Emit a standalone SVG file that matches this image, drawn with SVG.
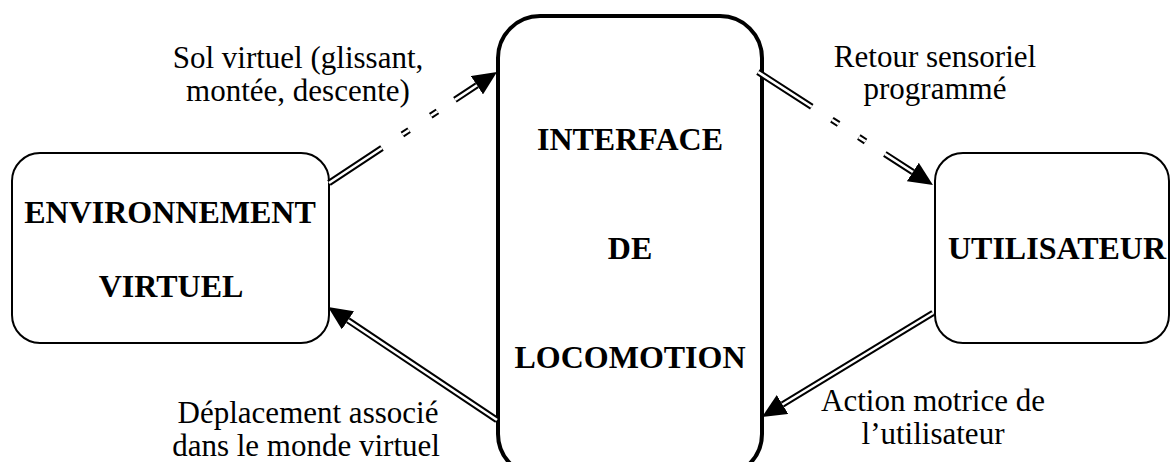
<svg xmlns="http://www.w3.org/2000/svg" width="1170" height="462" viewBox="0 0 1170 462">
<style>
.box{fill:#fff;stroke:#000;stroke-width:2}
.main{fill:#fff;stroke:#000;stroke-width:4}
.nt{font-family:"Liberation Serif","Times New Roman",serif;font-size:32px;font-weight:bold;text-anchor:middle;fill:#000}
.lb{font-family:"Liberation Serif","Times New Roman",serif;font-size:31px;text-anchor:middle;fill:#000}
.outer{fill:none;stroke:#000;stroke-width:6.5}
.inner{fill:none;stroke:#fff;stroke-width:2.6}
</style>
<defs>
<marker id="ah" viewBox="0 0 24 22" markerUnits="userSpaceOnUse" markerWidth="24" markerHeight="22" refX="0" refY="11" orient="auto">
<polygon points="0,0 24,11 0,22" fill="#000"/>
</marker>
</defs>
<rect width="1170" height="462" fill="#fff"/>
<g id="node-env">
<rect class="box" x="12" y="153" width="317" height="190" rx="28"/>
<text class="nt" x="170" y="223">ENVIRONNEMENT</text>
<text class="nt" x="171" y="297">VIRTUEL</text>
</g>
<g id="node-interface">
<rect class="main" x="498" y="16" width="264" height="460" rx="42"/>
<text class="nt" x="630" y="150">INTERFACE</text>
<text class="nt" x="630" y="259">DE</text>
<text class="nt" x="630" y="368">LOCOMOTION</text>
</g>
<g id="node-user">
<rect class="box" x="935" y="153" width="234" height="190" rx="28"/>
<text class="nt" x="1057" y="259">UTILISATEUR</text>
</g>
<g id="connectors">
<path class="outer" marker-end="url(#ah)" d="M329,183 L381.96,148.01 M402.39,134.51 L409.06,130.10 M430.75,115.78 L437.42,111.37 M454.93,99.80 L476.95,85.25"/>
<path class="inner" d="M329,183 L381.96,148.01 M402.39,134.51 L409.06,130.10 M430.75,115.78 L437.42,111.37 M454.93,99.80 L476.95,85.25"/>
<path class="outer" marker-end="url(#ah)" d="M758,72 L811.76,106.72 M831.92,119.74 L838.64,124.1 M858.8,137.1 L865.52,141.44 M884.84,153.92 L912.8,172.0"/>
<path class="inner" d="M758,72 L811.76,106.72 M831.92,119.74 L838.64,124.1 M858.8,137.1 L865.52,141.44 M884.84,153.92 L912.8,172.0"/>
<path class="outer" marker-end="url(#ah)" d="M933,313 L782.5,404.5"/>
<path class="inner" d="M933,313 L782.5,404.5"/>
<path class="outer" marker-end="url(#ah)" d="M497,420 L348,320.3"/>
<path class="inner" d="M497,420 L348,320.3"/>
</g>
<g id="labels">
<text class="lb" x="298" y="68">Sol virtuel (glissant,</text>
<text class="lb" x="298" y="101">montée, descente)</text>
<text class="lb" x="935" y="67">Retour sensoriel</text>
<text class="lb" x="935" y="99">programmé</text>
<text class="lb" x="308" y="423">Déplacement associé</text>
<text class="lb" x="306" y="456">dans le monde virtuel</text>
<text class="lb" x="933" y="411">Action motrice de</text>
<text class="lb" x="933" y="444">l’utilisateur</text>
</g>
</svg>
